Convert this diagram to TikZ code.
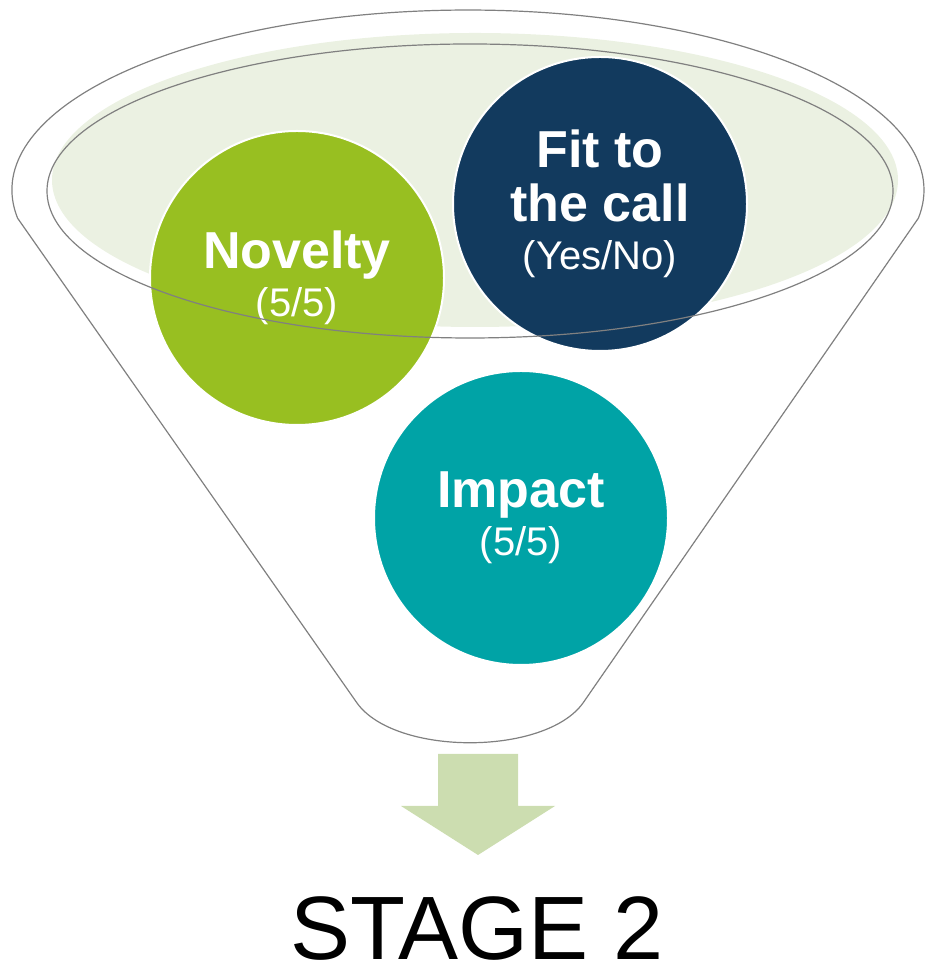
\documentclass[tikz,border=0pt]{standalone}
\usepackage{fontspec}
\setmainfont{Liberation Sans}
\definecolor{novgreen}{HTML}{98BF21}
\definecolor{fitblue}{HTML}{123A5E}
\definecolor{impteal}{HTML}{00A3A6}
\definecolor{rimfill}{HTML}{EBF1E2}
\definecolor{arrowgreen}{HTML}{CCDDB0}
\definecolor{rimline}{HTML}{808080}
\tikzset{
  crit/.style={circle,draw=white,line width=2pt,minimum size=294pt,inner sep=0pt,
    text=white,align=center,font=\fontsize{52}{54}\selectfont},
  rim/.style={draw=rimline,line width=1.2pt}
}
\begin{document}
\begin{tikzpicture}[x=1pt,y=1pt]
		\useasboundingbox (0,0) rectangle (927,968);
		\def\outerrim{(17.6,749.8) arc[start angle=189,end angle=-9,x radius=456,y radius=180]
			-- (583,265) .. controls (545,212) and (395,212) .. (357,265) -- cycle}
		\draw[rim] \outerrim;
		\fill[rimfill] (475,788) ellipse[x radius=423,y radius=147];
		\node[crit,fill=novgreen] (novelty) at (297,690)
			{\textbf{Novelty}\\[-6pt]{\fontsize{40}{40}\selectfont (5/5)}};
		\node[crit,fill=fitblue] (fit) at (600,764)
			{\textbf{Fit to}\\\textbf{the call}\\[-6pt]{\fontsize{40}{40}\selectfont (Yes/No)}};
		\node[crit,fill=impteal] (impact) at (521,450)
			{\textbf{Impact}\\[-6pt]{\fontsize{40}{40}\selectfont (5/5)}};
		\draw[rim] (470,777) ellipse[x radius=423,y radius=147];
		\fill[arrowgreen] (438,214) -- (518,214) -- (518,162) -- (555,162) -- (478,113)
			-- (401,162) -- (438,162) -- cycle;
		\node[anchor=base,inner sep=2pt,text depth=0pt,font=\fontsize{90}{90}\selectfont] (stage) at (477,9) {STAGE 2};
\end{tikzpicture}
\end{document}
